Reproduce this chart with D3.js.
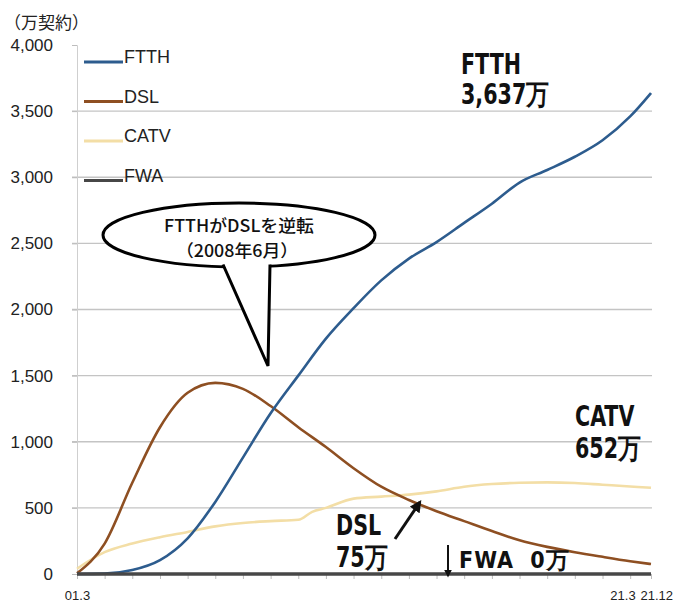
<!DOCTYPE html>
<html>
<head>
<meta charset="utf-8">
<script src="https://cdn.jsdelivr.net/npm/d3@7"></script>
<style>
  body { margin: 0; background: #fff; }
  text { font-family: "Liberation Sans", Arial, sans-serif; }
  .big { font-family: "Liberation Sans Narrow", "DejaVu Sans Condensed", Arial, sans-serif; font-weight: bold; font-size: 27px; fill: #111; }
  .jp { font-family: "Noto Sans CJK JP", sans-serif; }
</style>
</head>
<body>
<script>
// yearly points (March) plus the last quarter
const dates = ["2001-03","2002-03","2003-03","2004-03","2005-03","2006-03","2007-03",
               "2008-03","2009-03","2010-03","2011-03","2012-03","2013-03","2014-03",
               "2015-03","2016-03","2017-03","2018-03","2019-03","2020-03","2021-03","2021-12"];
const ftth = [0, 3, 30, 105, 270, 545, 880, 1215, 1500, 1780, 2010, 2220, 2385, 2510,
              2655, 2800, 2960, 3055, 3155, 3280, 3460, 3637];
const dsl  = [5, 230, 690, 1110, 1370, 1445, 1400, 1270, 1110, 960, 800, 660, 560, 475,
              400, 325, 255, 205, 165, 130, 97, 75];
const catvDates = ["2001-03","2002-03","2003-03","2004-03","2005-03","2006-03","2007-03",
                   "2008-03","2009-03","2009-09","2010-03","2011-03","2012-03","2013-03",
                   "2014-03","2015-03","2016-03","2017-03","2018-03","2019-03","2020-03",
                   "2021-03","2021-12"];
const catv = [40, 165, 230, 278, 318, 360, 386, 400, 410, 470, 500, 570, 585, 600,
              625, 660, 680, 690, 693, 688, 675, 662, 652];
const fwaDates = ["2001-03","2011-03","2021-12"];
const fwa = [0, 0, 0];

const seriesNames = ["FTTH", "DSL", "CATV", "FWA"];
const colors = ["#2d5c8e", "#8e4f22", "#f3dea6", "#474747"];
const yTicks = [0, 500, 1000, 1500, 2000, 2500, 3000, 3500, 4000];
const xLabels = {"2001-03": "01.3", "2021-03": "21.3", "2021-12": "21.12"};

const parse = d3.timeParse("%Y-%m");
const fmt = d3.timeFormat("%Y-%m");

const W = 683, H = 606;
const svg = d3.select("body").append("svg")
    .attr("width", W)
    .attr("height", H);

const x = d3.scaleTime()
    .domain([parse("2001-03"), parse("2021-12")])
    .range([77, 651]);
const y = d3.scaleLinear()
    .domain([0, 4000])
    .range([574, 45]);

// gridlines
svg.append("g")
  .selectAll("line")
  .data(yTicks.filter(v => v > 0 && v < 4000))
  .enter().append("line")
    .attr("x1", 72).attr("x2", 652)
    .attr("y1", d => y(d)).attr("y2", d => y(d))
    .attr("stroke", "#c4c4c4")
    .attr("stroke-width", 1.3);

// y axis
let yAxis = svg.append("g")
    .attr("transform", "translate(77,0)")
    .call(d3.axisLeft(y).tickValues(yTicks).tickFormat(d3.format(",")).tickSize(5).tickPadding(19));
yAxis.select(".domain").attr("stroke", "#cfcfcf");
yAxis.selectAll(".tick line").attr("stroke", "#bdbdbd");
yAxis.selectAll("text").attr("font-size", 17).attr("fill", "#222");

// x axis
const tickDates = dates.map(parse);
let xAxis = svg.append("g")
    .attr("transform", "translate(0,574)")
    .call(d3.axisBottom(x).tickValues(tickDates).tickSize(5).tickPadding(12)
      .tickFormat(d => xLabels[fmt(d)] || ""));
xAxis.select(".domain").remove();
xAxis.selectAll(".tick line").attr("stroke", "#bdbdbd");
xAxis.selectAll("text").attr("font-size", 13).attr("fill", "#222");
xAxis.selectAll(".tick text")
    .attr("text-anchor", d => fmt(d) === "2021-03" ? "end" : (fmt(d) === "2021-12" ? "start" : "middle"))
    .attr("dx", d => fmt(d) === "2021-03" ? 5 : (fmt(d) === "2021-12" ? -11 : 0));

// lines
const line = d3.line()
    .x(d => x(d.date))
    .y(d => y(d.value))
    .curve(d3.curveMonotoneX);

function toPoints(ds, vs) {
  return ds.map((d, i) => ({date: parse(d), value: vs[i]}));
}

const series = [
  toPoints(catvDates, catv),
  toPoints(dates, dsl),
  toPoints(dates, ftth),
  toPoints(fwaDates, fwa)
];
const seriesColor = [colors[2], colors[1], colors[0], colors[3]];

svg.append("g")
  .selectAll("path")
  .data(series)
  .enter().append("path")
    .attr("d", line)
    .attr("fill", "none")
    .attr("stroke", (d, i) => seriesColor[i])
    .attr("stroke-width", (d, i) => i === 3 ? 3.5 : 2.6)
    .attr("stroke-linejoin", "round");

// legend
let legend = svg.append("g")
  .selectAll("g")
  .data(seriesNames)
  .enter().append("g")
    .attr("transform", (d, i) => `translate(84, ${62 + i * 39.5})`);
legend.append("line")
    .attr("x1", 0).attr("x2", 39)
    .attr("stroke", (d, i) => colors[i])
    .attr("stroke-width", 3);
legend.append("text")
    .attr("x", 40).attr("y", 1)
    .attr("font-size", 18)
    .attr("fill", "#222")
    .text(d => d);

// unit
svg.append("text")
    .attr("class", "jp")
    .attr("x", 4).attr("y", 29)
    .attr("font-size", 17)
    .attr("fill", "#222")
    .text("（万契約）");

// callout
const callout = svg.append("g");
callout.append("ellipse")
    .attr("cx", 239).attr("cy", 235)
    .attr("rx", 136).attr("ry", 32)
    .attr("fill", "#fff")
    .attr("stroke", "#000")
    .attr("stroke-width", 3);
callout.append("path")
    .attr("d", "M223,262 L268,366 L270,262 Z")
    .attr("fill", "#fff");
callout.append("path")
    .attr("d", "M223,264.5 L268,366 L270,264.5")
    .attr("fill", "none")
    .attr("stroke", "#000")
    .attr("stroke-width", 3)
    .attr("stroke-linejoin", "miter");
callout.append("text")
    .attr("class", "jp")
    .attr("transform", "translate(239,232) scale(1.05,1)")
    .attr("text-anchor", "middle")
    .attr("font-size", 17)
    .attr("font-weight", 500)
    .attr("fill", "#111")
    .text("FTTHがDSLを逆転");
callout.append("text")
    .attr("class", "jp")
    .attr("transform", "translate(237,257) scale(1.05,1)")
    .attr("text-anchor", "middle")
    .attr("font-size", 17)
    .attr("font-weight", 500)
    .attr("fill", "#111")
    .text("（2008年6月）");

// annotations
svg.append("defs").append("marker")
    .attr("id", "arrow")
    .attr("viewBox", "0 0 10 10")
    .attr("refX", 8).attr("refY", 5)
    .attr("markerWidth", 4).attr("markerHeight", 4)
    .attr("orient", "auto")
  .append("path")
    .attr("d", "M0,0 L10,5 L0,10 Z")
    .attr("fill", "#111");

function bigText(tx, ty, s) {
  svg.append("text").attr("class", "big")
      .attr("transform", `translate(${tx},${ty}) scale(0.85,1.04)`)
      .text(s);
}
bigText(461, 74, "FTTH");
bigText(461, 104, "3,637万");
bigText(575, 426, "CATV");
bigText(575, 458, "652万");
bigText(336, 535, "DSL");
bigText(336, 567, "75万");

svg.append("line")
    .attr("x1", 395).attr("y1", 539)
    .attr("x2", 420).attr("y2", 502)
    .attr("stroke", "#111").attr("stroke-width", 3)
    .attr("marker-end", "url(#arrow)");
svg.append("line")
    .attr("x1", 448).attr("y1", 545)
    .attr("x2", 448).attr("y2", 576)
    .attr("stroke", "#111").attr("stroke-width", 2)
    .attr("marker-end", "url(#arrow)");
svg.append("text").attr("class", "big")
    .attr("x", 459).attr("y", 568)
    .style("font-size", "23px")
    .style("letter-spacing", "1px")
    .text("FWA\u00a0\u00a00万");
</script>
</body>
</html>
